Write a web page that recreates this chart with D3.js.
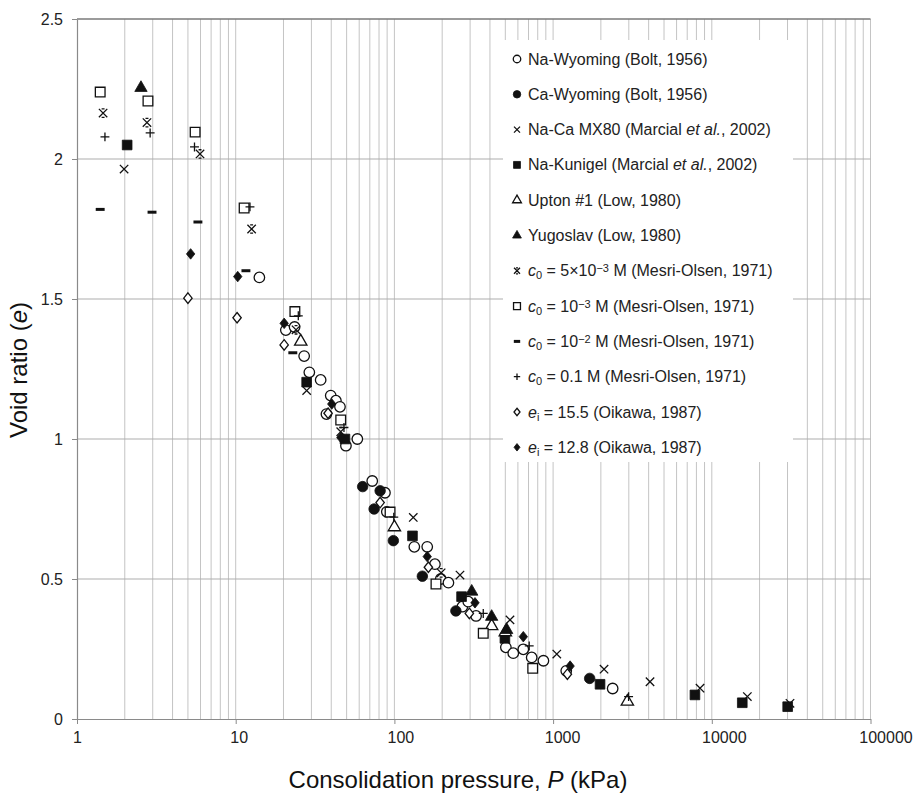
<!DOCTYPE html>
<html>
<head>
<meta charset="utf-8">
<script src="https://cdn.jsdelivr.net/npm/d3@7"></script>
<style>
  body { margin: 0; background: #fff; }
  text { font-family: "Liberation Sans", Arial, sans-serif; }
</style>
</head>
<body>
<div id="chart"></div>
<script>
// data: [P (kPa), void ratio e]
const naWyoming = [[14.1,1.577],[20.7,1.389],[23.5,1.40],[27.0,1.296],[29.1,1.238],[34.3,1.211],[39.7,1.155],[42.8,1.137],[45.4,1.115],[37.3,1.089],[58.4,1.0],[49.5,0.976],[72.5,0.85],[87.2,0.808],[89.6,0.74],[133.5,0.615],[161,0.615],[180,0.553],[196,0.50],[219,0.487],[268,0.401],[292,0.419],[327,0.368],[504,0.256],[561,0.235],[649,0.249],[733,0.220],[869,0.208],[1210,0.172],[2373,0.109]];
const caWyoming = [[63.1,0.83],[81.3,0.815],[74.5,0.75],[98.5,0.637],[150,0.51],[244,0.386],[1700,0.145]];
const naCaMX80 = [[1.98,1.964],[28.0,1.173],[131.5,0.72],[259,0.514],[535,0.354],[1055,0.232],[2094,0.178],[4080,0.133],[8430,0.11],[16750,0.08],[31100,0.056]];
const naKunigel = [[2.07,2.05],[28.0,1.203],[48.8,1.0],[130,0.654],[265,0.437],[497,0.288],[1976,0.124],[7830,0.086],[15560,0.058],[30070,0.044]];
const upton = [[25.7,1.348],[100,0.685],[410,0.332],[500,0.31],[2937,0.062]];
const yugoslav = [[2.53,2.254],[307,0.455],[410,0.365],[510,0.318]];
const c5e3 = [[1.46,2.164],[2.76,2.13],[5.96,2.018],[12.6,1.75],[24.0,1.39],[45.9,1.026],[197,0.522]];
const c1e3 = [[1.40,2.239],[2.80,2.207],[5.55,2.096],[11.3,1.825],[23.6,1.455],[45.9,1.068],[93.9,0.739],[182.8,0.482],[363,0.306],[744,0.181]];
const c1e2 = [[1.40,1.82],[2.97,1.81],[5.78,1.775],[11.6,1.601],[22.9,1.308]];
const c01 = [[1.50,2.079],[2.89,2.093],[5.5,2.043],[12.3,1.829],[24.8,1.44],[48.1,1.041],[99.1,0.721],[363,0.377],[707,0.261],[2990,0.08]];
const ei155 = [[5.0,1.503],[10.2,1.433],[20.2,1.336],[38.2,1.092],[81.3,0.773],[163.7,0.542],[296.6,0.377],[1230,0.16]];
const ei128 = [[5.2,1.661],[10.3,1.58],[20.2,1.413],[40.3,1.125],[46,1.005],[161,0.58],[322,0.415],[649,0.294],[1280,0.189]];

const yTicks = [0, 0.5, 1, 1.5, 2, 2.5];
const xTicks = [1, 10, 100, 1000, 10000, 100000];

// legend labels, pieces: [text, style] style: "" | "i" | "sub" | "sup"
const series = [
  {data: naWyoming, mark: "circleO", label: [["Na-Wyoming (Bolt, 1956)",""]]},
  {data: caWyoming, mark: "circleF", label: [["Ca-Wyoming (Bolt, 1956)",""]]},
  {data: naCaMX80, mark: "x", label: [["Na-Ca MX80 (Marcial ",""],["et al.","i"],[", 2002)",""]]},
  {data: naKunigel, mark: "squareF", label: [["Na-Kunigel (Marcial ",""],["et al.","i"],[", 2002)",""]]},
  {data: upton, mark: "triO", label: [["Upton #1 (Low, 1980)",""]]},
  {data: yugoslav, mark: "triF", label: [["Yugoslav (Low, 1980)",""]]},
  {data: c5e3, mark: "ast", label: [["c","i"],["0","sub"],[" =  5×10",""],["−3","sup"],[" M (Mesri-Olsen, 1971)",""]]},
  {data: c1e3, mark: "squareO", label: [["c","i"],["0","sub"],[" = 10",""],["−3","sup"],["  M (Mesri-Olsen, 1971)",""]]},
  {data: c1e2, mark: "dash", label: [["c","i"],["0","sub"],[" = 10",""],["−2","sup"],[" M (Mesri-Olsen, 1971)",""]]},
  {data: c01, mark: "plus", label: [["c","i"],["0","sub"],[" = 0.1 M (Mesri-Olsen, 1971)",""]]},
  {data: ei155, mark: "diaO", label: [["e","i"],["i","sub"],[" = 15.5 (Oikawa, 1987)",""]]},
  {data: ei128, mark: "diaF", label: [["e","i"],["i","sub"],[" = 12.8 (Oikawa, 1987)",""]]}
];

const width = 916, height = 793;
const margin = {top: 19, right: 45.5, bottom: 74, left: 77};

const svg = d3.select("#chart").append("svg")
  .attr("width", width).attr("height", height);

const x = d3.scaleLog().domain([1, 100000]).range([margin.left, width - margin.right]);
const y = d3.scaleLinear().domain([0, 2.5]).range([height - margin.bottom, margin.top]);

// grid
svg.append("g").selectAll("line")
  .data(x.ticks().filter(d => d > 1))
  .join("line")
  .attr("x1", d => x(d)).attr("x2", d => x(d))
  .attr("y1", y(0)).attr("y2", y(2.5))
  .attr("stroke", "#c4c4c4").attr("stroke-width", 1);

svg.append("g").selectAll("line")
  .data(yTicks.filter(d => d > 0))
  .join("line")
  .attr("x1", x(1)).attr("x2", x(100000))
  .attr("y1", d => y(d)).attr("y2", d => y(d))
  .attr("stroke", d => d === 2.5 ? "#7a7a7a" : "#adadad").attr("stroke-width", d => d === 2.5 ? 1.3 : 1);

// legend background hides the grid
svg.append("rect")
  .attr("x", 503).attr("y", 40).attr("width", 290).attr("height", 422)
  .attr("fill", "#fff");

// axes
const yAxis = d3.axisLeft(y).tickValues(yTicks).tickFormat(d3.format("~g"))
  .tickSize(5).tickSizeOuter(0).tickPadding(9);
const xAxis = d3.axisBottom(x).tickValues(xTicks).tickFormat(d3.format("d"))
  .tickSize(5).tickSizeOuter(0).tickPadding(8);

const gy = svg.append("g").attr("transform", `translate(${margin.left},0)`).call(yAxis);
const gx = svg.append("g").attr("transform", `translate(0,${y(0)})`).call(xAxis);
[gx, gy].forEach(g => {
  g.select(".domain").attr("stroke", "#8a8a8a").attr("stroke-width", 1.2);
  g.selectAll(".tick line").attr("stroke", "#8a8a8a");
  g.selectAll(".tick text").attr("fill", "#222").style("font-size", "16px")
    .style("font-family", "Liberation Sans, Arial, sans-serif");
});
// the original labels drift right as they get longer
gx.selectAll(".tick text").attr("dx", d => (String(d).length - 1) * 3);

// titles
svg.append("text")
  .attr("x", 458).attr("y", 788)
  .attr("text-anchor", "middle").attr("fill", "#111")
  .style("font-size", "24px")
  .call(t => {
    t.append("tspan").text("Consolidation pressure, ");
    t.append("tspan").attr("font-style", "italic").text("P");
    t.append("tspan").text(" (kPa)");
  });

svg.append("text")
  .attr("transform", "translate(27,370) rotate(-90)")
  .attr("text-anchor", "middle").attr("fill", "#111")
  .style("font-size", "24px")
  .call(t => {
    t.append("tspan").text("Void ratio (");
    t.append("tspan").attr("font-style", "italic").text("e");
    t.append("tspan").text(")");
  });

// markers
function markPath(mark, s) {
  const h = s / 2;
  switch (mark) {
    case "circleO": case "circleF":
      return d3.symbol(d3.symbolCircle, Math.PI * h * h)();
    case "squareO": case "squareF":
      return d3.symbol(d3.symbolSquare, s * s * 0.85)();
    case "triO": case "triF":
      return d3.symbol(d3.symbolTriangle, s * s * 0.6)();
    case "diaO": case "diaF":
      return `M0,${-h}L${h * 0.8},0L0,${h}L${-h * 0.8},0Z`;
    case "x": {
      const a = h * 0.8;
      return `M${-a},${-a}L${a},${a}M${a},${-a}L${-a},${a}`;
    }
    case "plus": {
      const a = h * 0.85;
      return `M${-a},0H${a}M0,${-a}V${a}`;
    }
    case "ast": {
      const a = h * 0.8;
      return `M${-a},${-a}L${a},${a}M${a},${-a}L${-a},${a}M${-a * 0.35},${-a}H${a * 0.35}M${-a * 0.35},${a}H${a * 0.35}`;
    }
    case "dash":
      return `M${-h * 0.85},0H${h * 0.85}`;
  }
}

function styleMark(sel, mark) {
  const filled = /F$/.test(mark);
  const open = /O$/.test(mark);
  sel.attr("fill", filled ? "#111" : open ? "#fff" : "none")
    .attr("stroke", "#111")
    .attr("stroke-width", mark === "dash" ? 3 : filled ? 0.8 : 1.3);
}

const pts = svg.append("g");
series.forEach(sr => {
  pts.append("g").selectAll("path")
    .data(sr.data)
    .join("path")
    .attr("transform", d => `translate(${x(d[0])},${y(d[1])})`)
    .attr("d", markPath(sr.mark, 10.5))
    .call(styleMark, sr.mark);
});

// legend
const leg = svg.append("g");
series.forEach((sr, i) => {
  const yy = 59 + i * 35.3;
  leg.append("path")
    .attr("transform", `translate(517,${yy})`)
    .attr("d", markPath(sr.mark, 7.5))
    .call(styleMark, sr.mark);
  const t = leg.append("text")
    .attr("x", 528).attr("y", yy + 5.5)
    .attr("fill", "#222").style("font-size", "16px");
  sr.label.forEach(([s, st]) => {
    const ts = t.append("tspan").text(s);
    if (st === "i") ts.attr("font-style", "italic");
    if (st === "sub") ts.attr("baseline-shift", "-25%").style("font-size", "11px");
    if (st === "sup") ts.attr("baseline-shift", "40%").style("font-size", "11px");
  });
});
</script>
</body>
</html>
